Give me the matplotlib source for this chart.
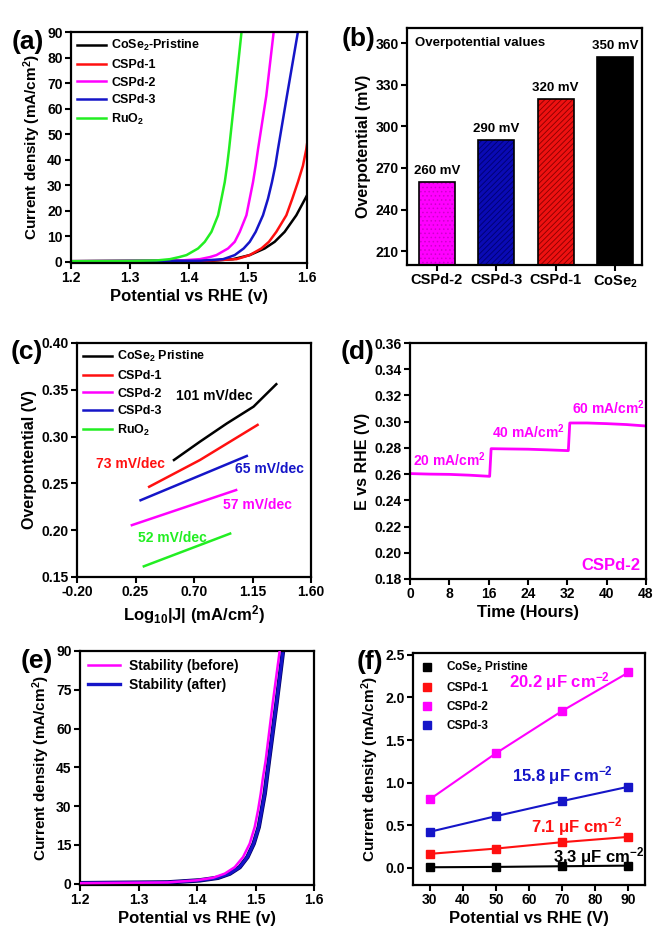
import numpy as np
import matplotlib
matplotlib.use('Agg')
import matplotlib.pyplot as plt
from matplotlib.lines import Line2D

plt.rcParams['font.family'] = ['Liberation Sans', 'DejaVu Sans']
plt.rcParams['font.weight'] = 'bold'
plt.rcParams['axes.labelweight'] = 'bold'
plt.rcParams['mathtext.fontset'] = 'custom'
plt.rcParams['mathtext.rm'] = 'Liberation Sans:bold'
plt.rcParams['mathtext.bf'] = 'Liberation Sans:bold'
plt.rcParams['mathtext.default'] = 'regular'
plt.rcParams['hatch.linewidth'] = 0.6

MAG = '#ff00ff'
BLU = '#1515c8'
RED = '#ff1010'
GRN = '#22ee22'

# ---- (a) LSV curves: potential (V) vs current density (mA/cm2)
ruo2_v = [1.20, 1.30, 1.345, 1.3675, 1.383, 1.3958, 1.4154, 1.4267, 1.438, 1.4493, 1.455, 1.4606, 1.4645, 1.4679, 1.4776, 1.489]
ruo2_j = [0.2, 0.3, 0.5, 1.0, 1.8, 2.6, 5.2, 7.8, 11.7, 18.2, 24.7, 31.2, 37.6, 44.1, 65.0, 90.0]
cspd2_v = [1.20, 1.38, 1.4183, 1.435, 1.4465, 1.4662, 1.4775, 1.486, 1.4973, 1.5029, 1.5085, 1.513, 1.517, 1.531, 1.5435]
cspd2_j = [0.2, 0.4, 1.0, 1.8, 2.6, 5.2, 7.8, 11.7, 18.2, 24.7, 31.2, 37.6, 44.1, 65.0, 90.0]
cspd3_v = [1.20, 1.42, 1.4577, 1.468, 1.4775, 1.4927, 1.5029, 1.513, 1.5254, 1.5339, 1.5406, 1.5463, 1.5508, 1.566, 1.5846]
cspd3_j = [0.2, 0.4, 1.0, 1.8, 2.6, 5.2, 7.8, 11.7, 18.2, 24.7, 31.2, 37.6, 44.1, 65.0, 90.0]
cspd1_v = [1.20, 1.43, 1.4804, 1.492, 1.5029, 1.5227, 1.5355, 1.548, 1.565, 1.5751, 1.5846, 1.5931, 1.5988, 1.600]
cspd1_j = [0.2, 0.4, 1.0, 1.8, 2.6, 5.2, 7.8, 11.7, 18.2, 24.7, 31.2, 37.6, 44.1, 46.0]
cose2_v = [1.20, 1.44, 1.4746, 1.489, 1.5029, 1.5283, 1.5452, 1.5621, 1.5819, 1.600]
cose2_j = [0.2, 0.4, 1.0, 1.8, 2.6, 5.2, 7.8, 11.7, 18.2, 26.0]

# ---- (b) overpotential bars
bar_names = ['CSPd-2', 'CSPd-3', 'CSPd-1', 'CoSe$_2$']
bar_vals = [260, 290, 320, 350]
bar_labels = ['260 mV', '290 mV', '320 mV', '350 mV']

# ---- (c) Tafel lines: log10|J| vs overpotential (V)
taf_cose2_x = [0.546, 0.746, 0.952, 1.158, 1.333]
taf_cose2_y = [0.275, 0.2946, 0.314, 0.332, 0.356]
taf_cspd1_x = [0.355, 0.746, 1.189]
taf_cspd1_y = [0.2464, 0.275, 0.3125]
taf_cspd2_x = [0.222, 1.024]
taf_cspd2_y = [0.2054, 0.2429]
taf_cspd3_x = [0.289, 1.106]
taf_cspd3_y = [0.232, 0.2793]
taf_ruo2_x = [0.314, 0.978]
taf_ruo2_y = [0.1614, 0.1964]

# ---- (d) chronopotentiometry of CSPd-2
time_h = [0, 4, 8, 12, 16.2, 16.5, 20, 24, 28, 32.2, 32.5, 36, 40, 44, 48]
e_rhe = [0.2604, 0.2600, 0.2598, 0.2592, 0.2583, 0.2794, 0.2792, 0.2790, 0.2785, 0.2779, 0.2990, 0.2990, 0.2985, 0.2978, 0.2967]

# ---- (e) stability LSV before / after
bef_v = [1.20, 1.35, 1.399, 1.4275, 1.4474, 1.4645, 1.4787, 1.4901, 1.4986, 1.5043, 1.5089, 1.5128, 1.5174, 1.5295, 1.5413]
bef_j = [0.2, 0.5, 1.3, 2.3, 3.9, 6.4, 10.3, 15.5, 21.9, 28.4, 34.8, 41.2, 47.7, 70.0, 90.0]
aft_v = [1.20, 1.35, 1.4048, 1.436, 1.456, 1.473, 1.4862, 1.4969, 1.5055, 1.5157, 1.523, 1.536, 1.547]
aft_j = [0.2, 0.5, 1.3, 2.3, 3.9, 6.4, 10.3, 15.5, 21.9, 34.8, 47.7, 70.0, 90.0]

# ---- (f) double-layer capacitance
scan = [30, 50, 70, 90]
dl_cose2 = [0.008, 0.012, 0.020, 0.027]
dl_cspd1 = [0.165, 0.227, 0.302, 0.364]
dl_cspd2 = [0.803, 1.344, 1.841, 2.292]
dl_cspd3 = [0.423, 0.607, 0.784, 0.952]

W, H = 658, 933


def rect(l, t, r, b):
    return [l / W, 1 - b / H, (r - l) / W, (b - t) / H]


def style(ax):
    for s in ax.spines.values():
        s.set_linewidth(1.6)
    ax.tick_params(direction='out', length=4, width=1.5, labelsize=10, pad=2)
    for lab in ax.get_xticklabels() + ax.get_yticklabels():
        lab.set_fontweight('bold')


def panel(fig, x, y, s):
    fig.text(x / W, 1 - y / H, s, fontsize=19, fontweight='bold', ha='center', va='center')


fig = plt.figure(figsize=(6.58, 9.33), dpi=100)
fig.patch.set_facecolor('white')

# (a)
ax = fig.add_axes(rect(71, 32, 307, 263))
ax.plot(cose2_v, cose2_j, color='black', lw=1.8, label='CoSe$_2$-Pristine')
ax.plot(cspd1_v, cspd1_j, color=RED, lw=1.8, label='CSPd-1')
ax.plot(cspd2_v, cspd2_j, color=MAG, lw=1.8, label='CSPd-2')
ax.plot(cspd3_v, cspd3_j, color=BLU, lw=1.8, label='CSPd-3')
ax.plot(ruo2_v, ruo2_j, color=GRN, lw=1.8, label='RuO$_2$')
ax.set_xlim(1.2, 1.6)
ax.set_ylim(-0.5, 90)
ax.set_xticks([1.2, 1.3, 1.4, 1.5, 1.6])
ax.set_yticks(range(0, 91, 10))
ax.set_xlabel('Potential vs RHE (v)', fontsize=12, labelpad=3)
ax.set_ylabel('Current density (mA/cm$^2$)', fontsize=11, labelpad=3)
ax.legend(loc='upper left', frameon=False, fontsize=9, handlelength=2.3, handletextpad=0.4,
          labelspacing=0.45, borderaxespad=0.3, borderpad=0.2)
style(ax)
panel(fig, 28, 42, '(a)')

# (b)
ax = fig.add_axes(rect(407, 28, 642, 265))
pos = np.arange(len(bar_vals))
faces = [MAG, '#0a0ab4', '#ee1111', 'black']
hatch_cols = ['#cc00cc', '#000070', '#880000', 'black']
hatches = ['....', '//////', '//////', None]
for i in range(len(bar_vals)):
    ax.bar(pos[i], bar_vals[i] - 200, bottom=200, width=0.6, color=faces[i],
           edgecolor=hatch_cols[i], hatch=hatches[i], lw=0, zorder=2)
    ax.bar(pos[i], bar_vals[i] - 200, bottom=200, width=0.6, fill=False,
           edgecolor='black', lw=1.2, zorder=3)
    ax.text(pos[i], bar_vals[i] + 3.5, bar_labels[i], ha='center', va='bottom',
            fontsize=9.5, fontweight='bold')
ax.text(0.035, 0.935, 'Overpotential values', transform=ax.transAxes, fontsize=9.5,
        fontweight='bold', ha='left', va='center')
ax.set_xlim(-0.5, 3.45)
ax.set_ylim(200, 371)
ax.set_yticks(range(210, 361, 30))
ax.set_xticks(pos)
ax.set_xticklabels(bar_names, fontsize=10.5)
ax.set_ylabel('Overpotential (mV)', fontsize=11.5, labelpad=3)
style(ax)
ax.tick_params(axis='x', labelsize=10.5)
panel(fig, 359, 39, '(b)')

# (c)
ax = fig.add_axes(rect(77, 343, 311, 577))
ax.plot(taf_cose2_x, taf_cose2_y, color='black', lw=1.8, label='CoSe$_2$ Pristine')
ax.plot(taf_cspd1_x, taf_cspd1_y, color=RED, lw=1.8, label='CSPd-1')
ax.plot(taf_cspd2_x, taf_cspd2_y, color=MAG, lw=1.8, label='CSPd-2')
ax.plot(taf_cspd3_x, taf_cspd3_y, color=BLU, lw=1.8, label='CSPd-3')
ax.plot(taf_ruo2_x, taf_ruo2_y, color=GRN, lw=1.8, label='RuO$_2$')
ax.text(0.854, 0.343, '101 mV/dec', color='black', fontsize=10, ha='center', va='center')
ax.text(0.214, 0.2704, '73 mV/dec', color=RED, fontsize=10, ha='center', va='center')
ax.text(1.281, 0.2654, '65 mV/dec', color=BLU, fontsize=10, ha='center', va='center')
ax.text(1.186, 0.2268, '57 mV/dec', color=MAG, fontsize=10, ha='center', va='center')
ax.text(0.533, 0.192, '52 mV/dec', color=GRN, fontsize=10, ha='center', va='center')
ax.set_xlim(-0.2, 1.6)
ax.set_ylim(0.15, 0.40)
ax.set_xticks([-0.2, 0.25, 0.7, 1.15, 1.6])
ax.set_xticklabels(['-0.20', '0.25', '0.70', '1.15', '1.60'])
ax.set_yticks([0.15, 0.20, 0.25, 0.30, 0.35, 0.40])
ax.set_yticklabels(['0.15', '0.20', '0.25', '0.30', '0.35', '0.40'])
ax.set_xlabel('Log$_{10}$|J| (mA/cm$^2$)', fontsize=12, labelpad=3)
ax.set_ylabel('Overpontential (V)', fontsize=11.5, labelpad=3)
ax.legend(loc='upper left', frameon=False, fontsize=9, handlelength=2.3, handletextpad=0.4,
          labelspacing=0.45, borderaxespad=0.3, borderpad=0.2)
style(ax)
panel(fig, 27, 352, '(c)')

# (d)
ax = fig.add_axes(rect(410, 343, 646, 579))
ax.plot(time_h, e_rhe, color=MAG, lw=2.0)
ax.text(0.7, 0.271, '20 mA/cm$^2$', color=MAG, fontsize=10, ha='left', va='center')
ax.text(16.7, 0.292, '40 mA/cm$^2$', color=MAG, fontsize=10, ha='left', va='center')
ax.text(32.9, 0.311, '60 mA/cm$^2$', color=MAG, fontsize=10, ha='left', va='center')
ax.text(46.8, 0.19, 'CSPd-2', color=MAG, fontsize=12, ha='right', va='center')
ax.set_xlim(0, 48)
ax.set_ylim(0.18, 0.36)
ax.set_xticks(range(0, 49, 8))
ax.set_yticks(np.arange(0.18, 0.361, 0.02))
ax.set_yticklabels(['%.2f' % v for v in np.arange(0.18, 0.361, 0.02)])
ax.set_xlabel('Time (Hours)', fontsize=12, labelpad=3)
ax.set_ylabel('E vs RHE (V)', fontsize=11.5, labelpad=3)
style(ax)
panel(fig, 358, 352, '(d)')

# (e)
ax = fig.add_axes(rect(80, 651, 314, 885))
ax.plot(aft_v, aft_j, color='#000060', lw=3.2, zorder=2)
ax.plot(aft_v, aft_j, color=BLU, lw=2.2, zorder=2, label='Stability (after)')
ax.plot(bef_v, bef_j, color=MAG, lw=1.8, zorder=3, label='Stability (before)')
ax.set_xlim(1.2, 1.6)
ax.set_ylim(-0.5, 90)
ax.set_xticks([1.2, 1.3, 1.4, 1.5, 1.6])
ax.set_yticks(range(0, 91, 15))
ax.set_xlabel('Potential vs RHE (v)', fontsize=12, labelpad=3)
ax.set_ylabel('Current density (mA/cm$^2$)', fontsize=11, labelpad=3)
handles = [Line2D([], [], color=MAG, lw=1.8), Line2D([], [], color=BLU, lw=2.4)]
ax.legend(handles, ['Stability (before)', 'Stability (after)'], loc='upper left', frameon=False,
          fontsize=10, handlelength=2.3, handletextpad=0.6, labelspacing=0.3,
          borderaxespad=0.3, borderpad=0.3)
style(ax)
panel(fig, 37, 661, '(e)')

# (f)
ax = fig.add_axes(rect(413, 653, 645, 885))
ax.plot(scan, dl_cose2, color='black', lw=1.5, marker='s', ms=6, label='CoSe$_2$ Pristine')
ax.plot(scan, dl_cspd1, color=RED, lw=1.5, marker='s', ms=6, label='CSPd-1')
ax.plot(scan, dl_cspd2, color=MAG, lw=1.5, marker='s', ms=6, label='CSPd-2')
ax.plot(scan, dl_cspd3, color=BLU, lw=1.5, marker='s', ms=6, label='CSPd-3')
ax.text(69.3, 2.19, '20.2 $\\mu$F cm$^{-2}$', color=MAG, fontsize=12, ha='center', va='center')
ax.text(70.0, 1.085, '15.8 $\\mu$F cm$^{-2}$', color=BLU, fontsize=12, ha='center', va='center')
ax.text(74.5, 0.49, '7.1 $\\mu$F cm$^{-2}$', color=RED, fontsize=12, ha='center', va='center')
ax.text(81.0, 0.129, '3.3 $\\mu$F cm$^{-2}$', color='black', fontsize=12, ha='center', va='center')
ax.set_xlim(25, 95)
ax.set_ylim(-0.2, 2.52)
ax.set_xticks(range(30, 91, 10))
ax.set_yticks([0.0, 0.5, 1.0, 1.5, 2.0, 2.5])
ax.set_yticklabels(['0.0', '0.5', '1.0', '1.5', '2.0', '2.5'])
ax.set_xlabel('Potential vs RHE (V)', fontsize=12, labelpad=3)
ax.set_ylabel('Current density (mA/cm$^2$)', fontsize=11, labelpad=3)
ax.legend(loc='upper left', frameon=False, fontsize=8.5, handlelength=1.2, handletextpad=1.0,
          labelspacing=0.6, borderaxespad=0.3, borderpad=0.3)
for ln in ax.get_legend().get_lines():
    ln.set_linestyle('none')
style(ax)
panel(fig, 370, 662, '(f)')

fig.savefig('out.png', dpi=100, facecolor='white')
